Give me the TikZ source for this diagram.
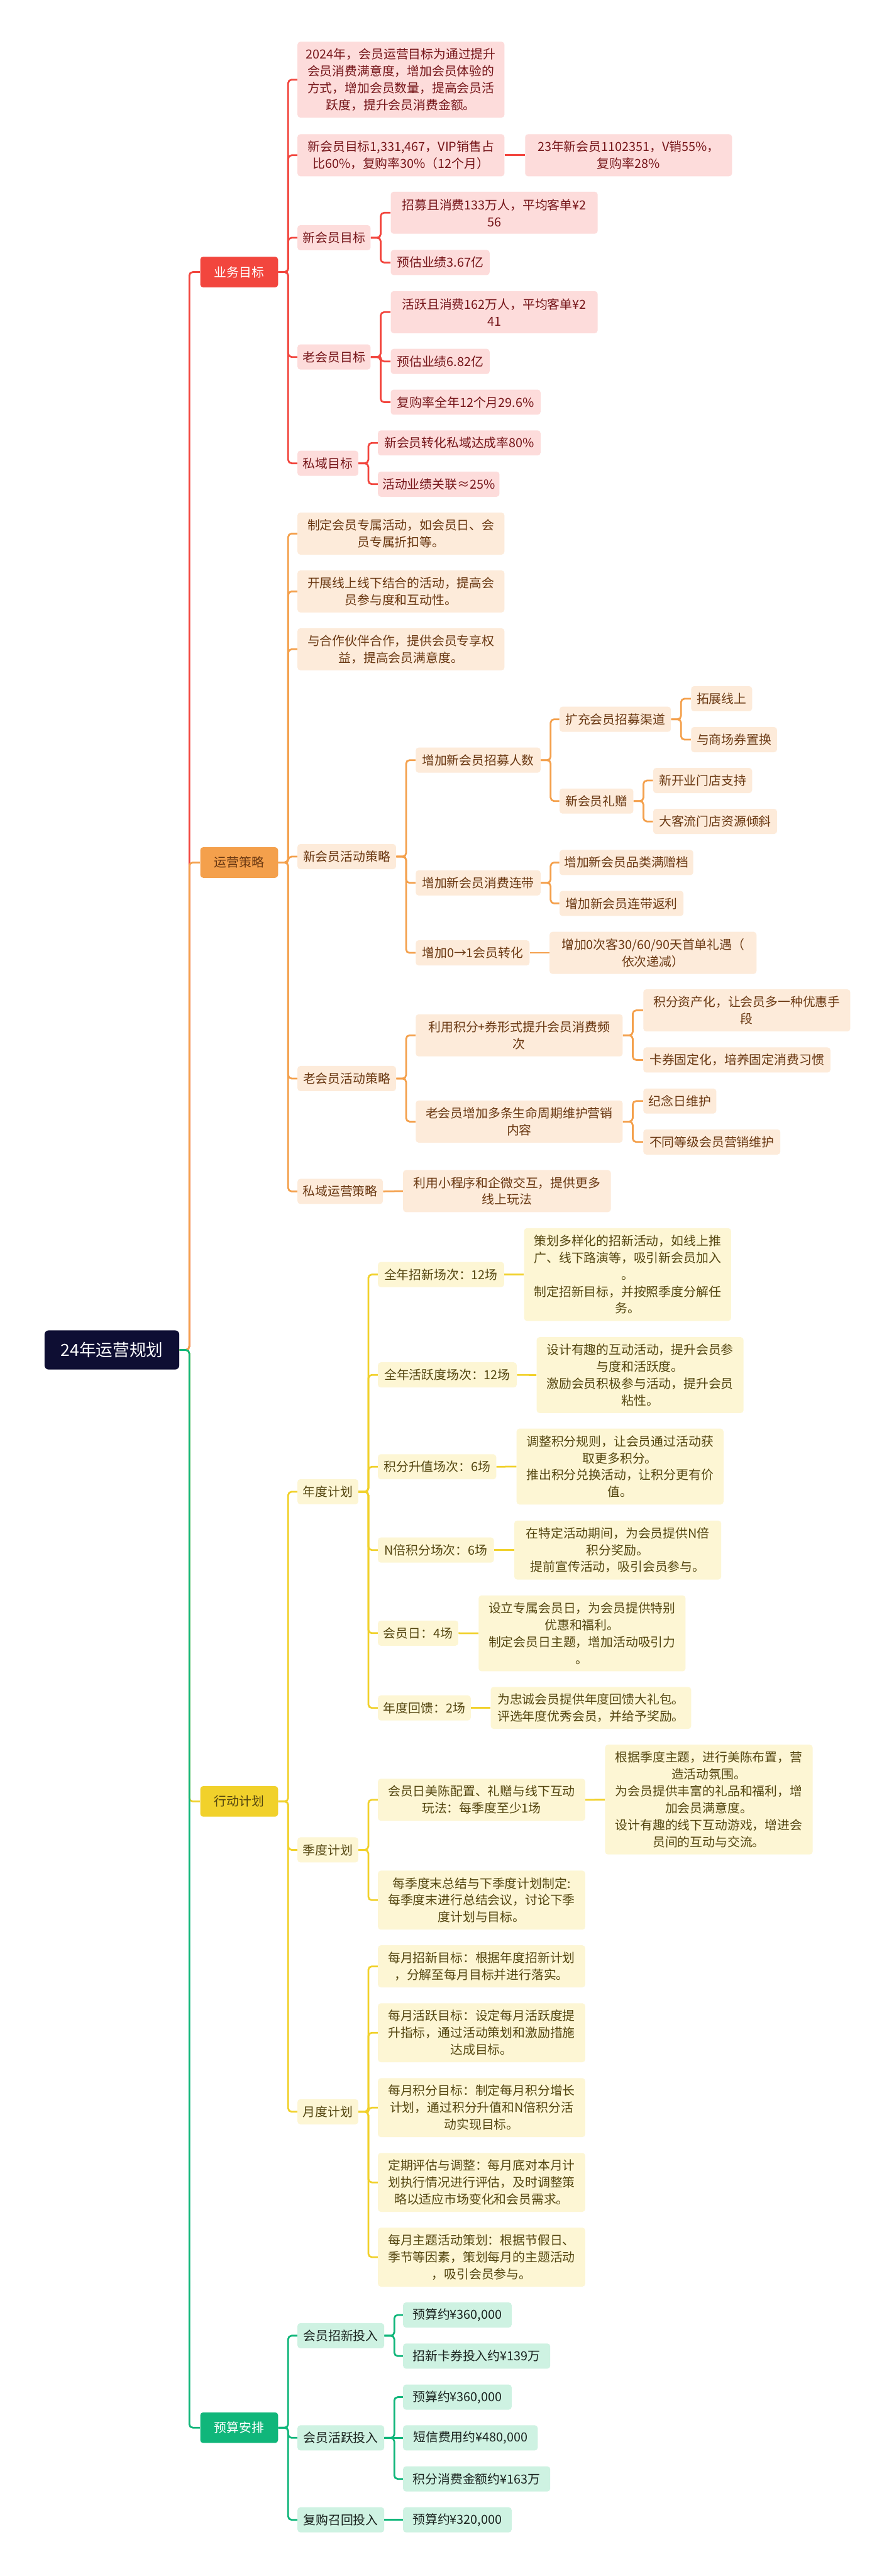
\documentclass[tikz,border=0pt]{standalone}
\usepackage{fontspec}
\setmainfont{Noto Sans CJK SC}
\usepackage{xcolor}

\definecolor{rootNavy}{HTML}{0E0E33}
\definecolor{redMain}{HTML}{F2463E}
\definecolor{redPale}{HTML}{FDDCDB}
\definecolor{redInk}{HTML}{76161A}
\definecolor{orgMain}{HTML}{F4A04C}
\definecolor{orgPale}{HTML}{FDEBDA}
\definecolor{orgInk}{HTML}{6A3812}
\definecolor{ylwMain}{HTML}{F1D12B}
\definecolor{ylwPale}{HTML}{FDF6D4}
\definecolor{ylwInk}{HTML}{544610}
\definecolor{grnMain}{HTML}{10B67A}
\definecolor{grnPale}{HTML}{CEF2E2}
\definecolor{grnInk}{HTML}{1B2420}

\begin{document}
\begin{tikzpicture}[x=0.05cm, y=-0.05cm,
    box/.style={anchor=west, rounded corners=2.5pt, inner xsep=1.5pt, inner ysep=0pt, align=center, font=\fontsize{10.8}{14.65}\selectfont},
    wd/.style={minimum width={#1*1.4226pt}},
    nl/.style={minimum height={(5+10.3*#1)*1.4226pt}},
    head/.style={box, minimum width=67.4pt, minimum height=26.5pt},
    redhead/.style={head, fill=redMain, text=white},
    orghead/.style={head, fill=orgMain, text=orgInk},
    ylwhead/.style={head, fill=ylwMain, text=ylwInk},
    grnhead/.style={head, fill=grnMain, text=white},
    redleaf/.style={box, nl=1, fill=redPale, text=redInk},
    orgleaf/.style={box, nl=1, fill=orgPale, text=orgInk},
    ylwleaf/.style={box, nl=1, fill=ylwPale, text=ylwInk},
    grnleaf/.style={box, nl=1, fill=grnPale, text=grnInk},
    link/.style={draw=#1, line width=1.5pt, rounded corners=3pt}
]

    % Page
    \fill[white] (0,0) rectangle (544,1568);
    \useasboundingbox (0,0) rectangle (544,1568);

    % Root
    \node[box, fill=rootNavy, text=white, wd=82, minimum height=33.9pt, rounded corners=3.5pt, font=\fontsize{14.5}{17}\selectfont] (root) at (27,821.7) {24年运营规划};

    % Main branches
    \node[redhead] (goal)  at (121.8,165.6)  {业务目标};
    \node[orghead] (strat) at (121.8,525)    {运营策略};
    \node[ylwhead] (act)   at (121.8,1096.5) {行动计划};
    \node[grnhead] (bud)   at (121.8,1477.7) {预算安排};

    % Business goals
    \node[redleaf, wd=126, nl=4] (g1) at (181,48.5) {2024年，会员运营目标为通过提升\\会员消费满意度，增加会员体验的\\方式，增加会员数量，提高会员活\\跃度，提升会员消费金额。};
    \node[redleaf, wd=126, nl=2] (g2) at (181,94.5) {新会员目标1,331,467，VIP销售占\\比60\%，复购率30\%（12个月）};
    \node[redleaf, wd=126, nl=2] (g2a) at (319.6,94.5) {23年新会员1102351，V销55\%，\\复购率28\%};
    \node[redleaf, wd=44.5] (g3) at (181,144.7) {新会员目标};
    \node[redleaf, wd=126, nl=2] (g3a) at (237.8,129.5) {招募且消费133万人，平均客单¥2\\56};
    \node[redleaf, wd=60.2] (g3b) at (237.8,159.8) {预估业绩3.67亿};
    \node[redleaf, wd=44.5] (g4) at (181,217.3) {老会员目标};
    \node[redleaf, wd=126, nl=2] (g4a) at (237.8,190) {活跃且消费162万人，平均客单¥2\\41};
    \node[redleaf, wd=60.2] (g4b) at (237.8,220) {预估业绩6.82亿};
    \node[redleaf, wd=91.2] (g4c) at (237.8,244.8) {复购率全年12个月29.6\%};
    \node[redleaf, wd=37] (g5) at (181,282) {私域目标};
    \node[redleaf, wd=99] (g5a) at (230,269.6) {新会员转化私域达成率80\%};
    \node[redleaf, wd=74] (g5b) at (230,294.7) {活动业绩关联≈25\%};

    % Operation strategy
    \node[orgleaf, wd=126, nl=2] (s1) at (181,324.8) {制定会员专属活动，如会员日、会\\员专属折扣等。};
    \node[orgleaf, wd=126, nl=2] (s2) at (181,360) {开展线上线下结合的活动，提高会\\员参与度和互动性。};
    \node[orgleaf, wd=126, nl=2] (s3) at (181,395.2) {与合作伙伴合作，提供会员专享权\\益，提高会员满意度。};
    \node[orgleaf, wd=60] (s4) at (181,521.4) {新会员活动策略};
    \node[orgleaf, wd=76] (s41) at (253,462.7) {增加新会员招募人数};
    \node[orgleaf, wd=67.8] (s411) at (340.6,437.8) {扩充会员招募渠道};
    \node[orgleaf, wd=37.1] (s4111) at (420.7,425.3) {拓展线上};
    \node[orgleaf, wd=52.3] (s4112) at (420.7,450.2) {与商场券置换};
    \node[orgleaf, wd=44.9] (s412) at (340.6,487.6) {新会员礼赠};
    \node[orgleaf, wd=60.2] (s4121) at (397.6,475.1) {新开业门店支持};
    \node[orgleaf, wd=75.4] (s4122) at (397.6,500) {大客流门店资源倾斜};
    \node[orgleaf, wd=76] (s42) at (253,537.4) {增加新会员消费连带};
    \node[orgleaf, wd=81.4] (s421) at (340.6,525) {增加新会员品类满赠档};
    \node[orgleaf, wd=75.4] (s422) at (340.6,549.9) {增加新会员连带返利};
    \node[orgleaf, wd=69.3] (s43) at (253,580) {增加0→1会员转化};
    \node[orgleaf, wd=126, nl=2] (s431) at (334.5,580) {增加0次客30/60/90天首单礼遇（\\依次递减）};
    \node[orgleaf, wd=60] (s5) at (181,656.5) {老会员活动策略};
    \node[orgleaf, wd=126, nl=2] (s51) at (253,630.2) {利用积分+券形式提升会员消费频\\次};
    \node[orgleaf, wd=126, nl=2] (s511) at (391.6,615) {积分资产化，让会员多一种优惠手\\段};
    \node[orgleaf, wd=113.9] (s512) at (391.6,645.2) {卡券固定化，培养固定消费习惯};
    \node[orgleaf, wd=126, nl=2] (s52) at (253,682.7) {老会员增加多条生命周期维护营销\\内容};
    \node[orgleaf, wd=44.4] (s521) at (391.6,670.2) {纪念日维护};
    \node[orgleaf, wd=83.4] (s522) at (391.6,695.1) {不同等级会员营销维护};
    \node[orgleaf, wd=52] (s6) at (181,725.2) {私域运营策略};
    \node[orgleaf, wd=126.5, nl=2] (s61) at (245.3,725) {利用小程序和企微交互，提供更多\\线上玩法};

    % Action plan
    \node[ylwleaf, wd=37] (a1) at (181,908) {年度计划};
    \node[ylwleaf, wd=76.8] (a11) at (230,775.8) {全年招新场次：12场};
    \node[ylwleaf, wd=126, nl=5] (a111) at (319,775.8) {策划多样化的招新活动，如线上推\\广、线下路演等，吸引新会员加入\\。\\制定招新目标，并按照季度分解任\\务。};
    \node[ylwleaf, wd=84.5] (a12) at (230,836.9) {全年活跃度场次：12场};
    \node[ylwleaf, wd=126, nl=4] (a121) at (326.6,837) {设计有趣的互动活动，提升会员参\\与度和活跃度。\\激励会员积极参与活动，提升会员\\粘性。};
    \node[ylwleaf, wd=72] (a13) at (230,892.8) {积分升值场次：6场};
    \node[ylwleaf, wd=126, nl=4] (a131) at (314.4,892.7) {调整积分规则，让会员通过活动获\\取更多积分。\\推出积分兑换活动，让积分更有价\\值。};
    \node[ylwleaf, wd=70.6] (a14) at (230,943.5) {N倍积分场次：6场};
    \node[ylwleaf, wd=126, nl=3] (a141) at (313,943.5) {在特定活动期间，为会员提供N倍\\积分奖励。\\提前宣传活动，吸引会员参与。};
    \node[ylwleaf, wd=48.9] (a15) at (230,994.1) {会员日：4场};
    \node[ylwleaf, wd=126, nl=4] (a151) at (291.3,994.2) {设立专属会员日，为会员提供特别\\优惠和福利。\\制定会员日主题，增加活动吸引力\\。};
    \node[ylwleaf, wd=56.5] (a16) at (230,1039.6) {年度回馈：2场};
    \node[ylwleaf, wd=122, nl=2] (a161) at (298.7,1039.6) {为忠诚会员提供年度回馈大礼包。\\评选年度优秀会员，并给予奖励。};
    \node[ylwleaf, wd=37] (a2) at (181,1126) {季度计划};
    \node[ylwleaf, wd=126.2, nl=2] (a21) at (230,1095.5) {会员日美陈配置、礼赠与线下互动\\玩法：每季度至少1场};
    \node[ylwleaf, wd=126.4, nl=6] (a211) at (368.3,1095.4) {根据季度主题，进行美陈布置，营\\造活动氛围。\\为会员提供丰富的礼品和福利，增\\加会员满意度。\\设计有趣的线下互动游戏，增进会\\员间的互动与交流。};
    \node[ylwleaf, wd=126.2, nl=3] (a22) at (230,1156.6) {每季度末总结与下季度计划制定:\\每季度末进行总结会议，讨论下季\\度计划与目标。};
    \node[ylwleaf, wd=37] (a3) at (181,1285.4) {月度计划};
    \node[ylwleaf, wd=126.2, nl=2] (a31) at (230,1196.9) {每月招新目标：根据年度招新计划\\，分解至每月目标并进行落实。};
    \node[ylwleaf, wd=126.2, nl=3] (a32) at (230,1237.3) {每月活跃目标：设定每月活跃度提\\升指标，通过活动策划和激励措施\\达成目标。};
    \node[ylwleaf, wd=126.2, nl=3] (a33) at (230,1282.9) {每月积分目标：制定每月积分增长\\计划，通过积分升值和N倍积分活\\动实现目标。};
    \node[ylwleaf, wd=126.2, nl=3] (a34) at (230,1328.4) {定期评估与调整：每月底对本月计\\划执行情况进行评估，及时调整策\\略以适应市场变化和会员需求。};
    \node[ylwleaf, wd=126.2, nl=3] (a35) at (230,1373.9) {每月主题活动策划：根据节假日、\\季节等因素，策划每月的主题活动\\，吸引会员参与。};

    % Budget
    \node[grnleaf, wd=52.8] (b1) at (181,1421.7) {会员招新投入};
    \node[grnleaf, wd=66.1] (b11) at (245.3,1409.1) {预算约¥360,000};
    \node[grnleaf, wd=89.6] (b12) at (245.3,1434.1) {招新卡券投入约¥139万};
    \node[grnleaf, wd=52.8] (b2) at (181,1483.9) {会员活跃投入};
    \node[grnleaf, wd=66.1] (b21) at (245.3,1459.1) {预算约¥360,000};
    \node[grnleaf, wd=82] (b22) at (245.3,1483.9) {短信费用约¥480,000};
    \node[grnleaf, wd=89.6] (b23) at (245.3,1508.9) {积分消费金额约¥163万};
    \node[grnleaf, wd=52.8] (b3) at (181,1533.8) {复购召回投入};
    \node[grnleaf, wd=66.1] (b31) at (245.3,1533.8) {预算约¥320,000};

    % Root connectors
    \foreach \m/\c in {goal/redMain, strat/orgMain, act/ylwMain, bud/grnMain}
        \draw[link=\c] (root.east) -- ++(6,0) |- (\m.west);

    % Business goal connectors
    \foreach \n in {g1,g2,g3,g4,g5}
        \draw[link=redMain] (goal.east) -- ++(6,0) |- (\n.west);
    \draw[link=redMain] (g2.east) -- (g2a.west);
    \foreach \n in {g3a,g3b}
        \draw[link=redMain] (g3.east) -- ++(6,0) |- (\n.west);
    \foreach \n in {g4a,g4b,g4c}
        \draw[link=redMain] (g4.east) -- ++(6,0) |- (\n.west);
    \foreach \n in {g5a,g5b}
        \draw[link=redMain] (g5.east) -- ++(6,0) |- (\n.west);

    % Strategy connectors
    \foreach \n in {s1,s2,s3,s4,s5,s6}
        \draw[link=orgMain] (strat.east) -- ++(6,0) |- (\n.west);
    \foreach \n in {s41,s42,s43}
        \draw[link=orgMain] (s4.east) -- ++(6,0) |- (\n.west);
    \foreach \n in {s411,s412}
        \draw[link=orgMain] (s41.east) -- ++(6,0) |- (\n.west);
    \foreach \n in {s4111,s4112}
        \draw[link=orgMain] (s411.east) -- ++(6,0) |- (\n.west);
    \foreach \n in {s4121,s4122}
        \draw[link=orgMain] (s412.east) -- ++(6,0) |- (\n.west);
    \foreach \n in {s421,s422}
        \draw[link=orgMain] (s42.east) -- ++(6,0) |- (\n.west);
    \draw[link=orgMain] (s43.east) -- (s431.west);
    \foreach \n in {s51,s52}
        \draw[link=orgMain] (s5.east) -- ++(6,0) |- (\n.west);
    \foreach \n in {s511,s512}
        \draw[link=orgMain] (s51.east) -- ++(6,0) |- (\n.west);
    \foreach \n in {s521,s522}
        \draw[link=orgMain] (s52.east) -- ++(6,0) |- (\n.west);
    \draw[link=orgMain] (s6.east) -- (s61.west);

    % Action plan connectors
    \foreach \n in {a1,a2,a3}
        \draw[link=ylwMain] (act.east) -- ++(6,0) |- (\n.west);
    \foreach \n in {a11,a12,a13,a14,a15,a16}
        \draw[link=ylwMain] (a1.east) -- ++(6,0) |- (\n.west);
    \foreach \p/\n in {a11/a111, a12/a121, a13/a131, a14/a141, a15/a151, a16/a161, a21/a211}
        \draw[link=ylwMain] (\p.east) -- (\n.west);
    \foreach \n in {a21,a22}
        \draw[link=ylwMain] (a2.east) -- ++(6,0) |- (\n.west);
    \foreach \n in {a31,a32,a33,a34,a35}
        \draw[link=ylwMain] (a3.east) -- ++(6,0) |- (\n.west);

    % Budget connectors
    \foreach \n in {b1,b2,b3}
        \draw[link=grnMain] (bud.east) -- ++(6,0) |- (\n.west);
    \foreach \n in {b11,b12}
        \draw[link=grnMain] (b1.east) -- ++(6,0) |- (\n.west);
    \foreach \n in {b21,b23}
        \draw[link=grnMain] (b2.east) -- ++(6,0) |- (\n.west);
    \draw[link=grnMain] (b2.east) -- (b22.west);
    \draw[link=grnMain] (b3.east) -- (b31.west);

\end{tikzpicture}
\end{document}
